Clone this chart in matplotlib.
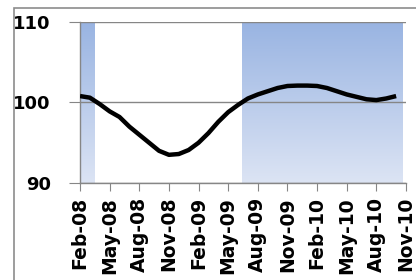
import numpy as np
import matplotlib
matplotlib.use("Agg")
import matplotlib.pyplot as plt
from matplotlib.colors import LinearSegmentedColormap
from matplotlib.patches import Rectangle

# monthly index, Feb-08 .. Oct-10
values = [100.8, 100.6, 99.8, 98.9, 98.2, 97.0, 96.0, 95.0, 94.0, 93.5,
          93.6, 94.1, 95.0, 96.2, 97.6, 98.8, 99.7, 100.5, 101.0, 101.4,
          101.8, 102.05, 102.1, 102.1, 102.05, 101.8, 101.4, 101.0, 100.7,
          100.4, 100.3, 100.5, 100.8]
tick_labels = ["Feb-08", "May-08", "Aug-08", "Nov-08", "Feb-09", "May-09",
               "Aug-09", "Nov-09", "Feb-10", "May-10", "Aug-10", "Nov-10"]
# shaded periods, in months from Feb-08
bands = [(0, 1.5), (16.4, 32.6)]

fig = plt.figure(figsize=(4.16, 2.80), dpi=100)
ax = fig.add_axes([80 / 416, 1 - 183 / 280, 326 / 416, 161 / 280])

# outer chart border
fig.patches.append(Rectangle((14 / 416, -0.1), 1.0, 1 - 8 / 280 + 0.1,
                             transform=fig.transFigure, fill=False,
                             edgecolor="#8c8c8c", linewidth=1.2, clip_on=False))

cmap = LinearSegmentedColormap.from_list("band", ["#dce4f4", "#99b4e2"])
grad = np.linspace(0, 1, 256).reshape(-1, 1)
for x0, x1 in bands:
    ax.imshow(grad, extent=(x0, x1, 90, 110), origin="lower", cmap=cmap,
              aspect="auto", zorder=1)

x = np.arange(len(values))
ax.plot(x, values, color="black", linewidth=3.2, solid_joinstyle="round",
        solid_capstyle="butt", zorder=3)

ax.set_xlim(0, 33)
ax.set_ylim(90, 110)
ax.set_yticks([90, 100, 110])
ax.set_xticks(np.arange(0, 34, 3))
ax.set_xticklabels(tick_labels, rotation=90, fontsize=13.5, fontweight="bold",
                   va="top")
for lab in ax.get_yticklabels():
    lab.set_fontsize(13)
    lab.set_fontweight("bold")

ax.yaxis.grid(True, color="#868686", linewidth=1)
ax.set_axisbelow(False)
for ln in ax.get_ygridlines():
    ln.set_zorder(2)
for s in ["top", "right"]:
    ax.spines[s].set_visible(False)
for s in ["left", "bottom"]:
    ax.spines[s].set_color("#868686")
    ax.spines[s].set_linewidth(1)
ax.tick_params(axis="y", length=8, color="#868686", pad=13)
ax.tick_params(axis="x", length=6, color="#868686", pad=4)

fig.savefig("out.png", dpi=100)
